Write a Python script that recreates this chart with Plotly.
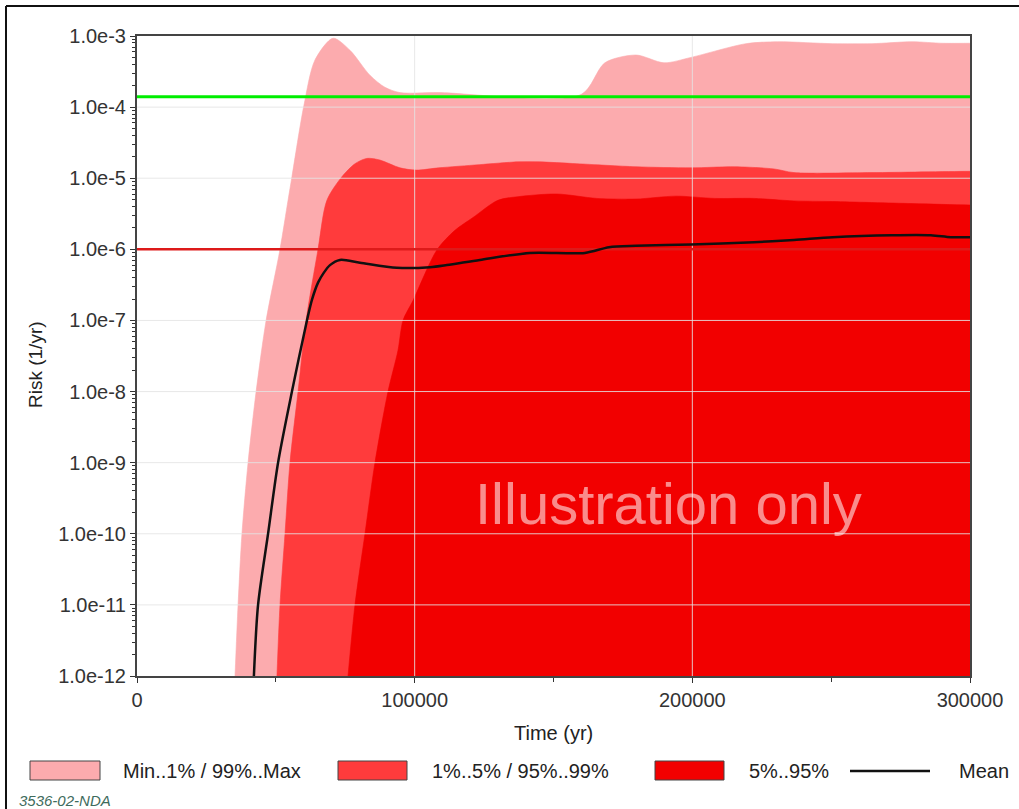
import plotly.graph_objects as go

# ---------------- data ----------------
# Upper envelope "Max" (Min..1% / 99%..Max band)
time_max = [35300, 36400, 37800, 40000, 42900, 46500, 51500, 54400, 55800, 60100,
            64100, 70600, 76700, 83900, 89300, 94700, 108700, 159900, 168500,
            179700, 189800, 199500, 219300, 230800, 250600, 264700, 279100, 290200, 300000]
risk_max = [1.0e-12, 1.0e-11, 1.0e-10, 1.0e-9, 1.0e-8, 1.0e-7, 1.0e-6, 4.9e-6, 1.05e-5, 1.05e-4,
            4.6e-4, 9.3e-4, 6.3e-4, 2.8e-4, 1.9e-4, 1.6e-4, 1.6e-4, 1.5e-4, 4.2e-4,
            5.4e-4, 4.2e-4, 5.0e-4, 7.8e-4, 8.3e-4, 7.8e-4, 7.8e-4, 8.3e-4, 7.9e-4, 7.9e-4]

# 99% percentile (1%..5% / 95%..99% band)
time_p99 = [50400, 51500, 53300, 55100, 58000, 60900, 65200, 68400, 73800, 78500,
            82800, 87500, 94700, 100500, 108700, 123200, 137200, 144400, 158400,
            179700, 199500, 215300, 229400, 236600, 264700, 300000]
risk_p99 = [1.0e-12, 1.0e-11, 1.0e-10, 1.0e-9, 1.0e-8, 1.0e-7, 1.0e-6, 4.9e-6, 1.05e-5, 1.6e-5,
            1.9e-5, 1.8e-5, 1.4e-5, 1.3e-5, 1.4e-5, 1.55e-5, 1.7e-5, 1.7e-5, 1.6e-5,
            1.45e-5, 1.4e-5, 1.45e-5, 1.35e-5, 1.2e-5, 1.2e-5, 1.25e-5]

# 95% percentile (5%..95% band)
time_p95 = [76000, 78500, 82100, 85700, 90400, 94000, 95800, 99400, 108000, 114500,
            121000, 130000, 137200, 151200, 165600, 179700, 194100, 208100, 222200,
            236600, 250600, 279100, 300000]
risk_p95 = [1.0e-12, 1.0e-11, 1.0e-10, 1.0e-9, 1.0e-8, 3.8e-8, 1.0e-7, 1.9e-7, 9.8e-7, 1.85e-6,
            2.8e-6, 4.9e-6, 5.5e-6, 6.0e-6, 5.2e-6, 5.1e-6, 5.6e-6, 5.2e-6, 5.2e-6,
            4.8e-6, 4.7e-6, 4.4e-6, 4.2e-6]

# Mean
time_mean = [42100, 43600, 47200, 50800, 55800, 61200, 63000, 65200, 67300, 69500,
             73100, 80300, 93600, 105500, 111600, 123500, 141500, 161300, 170000,
             179700, 199500, 222200, 236600, 250600, 271900, 285900, 293100, 300000]
risk_mean = [1.0e-12, 1.0e-11, 1.0e-10, 1.0e-9, 1.0e-8, 1.0e-7, 1.95e-7, 3.4e-7, 4.7e-7, 6.0e-7,
             7.1e-7, 6.5e-7, 5.5e-7, 5.6e-7, 6.0e-7, 7.1e-7, 8.9e-7, 8.9e-7, 1.07e-6,
             1.12e-6, 1.17e-6, 1.26e-6, 1.35e-6, 1.48e-6, 1.58e-6, 1.58e-6, 1.48e-6, 1.48e-6]

# Reference limits (green, red)
limit_values = [1.4e-4, 1.0e-6]
limit_colors = ["#00ee00", "#dd1a1a"]

x_range = [0, 300000]
x_ticks = [0, 100000, 200000, 300000]
y_ticks = [1e-3, 1e-4, 1e-5, 1e-6, 1e-7, 1e-8, 1e-9, 1e-10, 1e-11, 1e-12]
y_ticktext = ["1.0e-3", "1.0e-4", "1.0e-5", "1.0e-6", "1.0e-7", "1.0e-8",
              "1.0e-9", "1.0e-10", "1.0e-11", "1.0e-12"]

legend_labels = ["Min..1% / 99%..Max", "1%..5% / 95%..99%", "5%..95%", "Mean"]
band_colors = ["#fcabae", "#ff3b3c", "#f20000"]

# ---------------- figure ----------------
W, H = 1019, 809
L, R, T, B = 137, 970, 36, 676
FONT = "Liberation Sans, Arial, sans-serif"


def px(x):
    return (x - L) / (R - L)


def py(y):
    return (B - y) / (B - T)


BASE = 1e-14
fig = go.Figure()

for t, v, c in [(time_max, risk_max, band_colors[0]),
                (time_p99, risk_p99, band_colors[1]),
                (time_p95, risk_p95, band_colors[2])]:
    xs = list(t) + [t[-1] + 20000, t[-1] + 20000] + [t[0]]
    ys = list(v) + [v[-1], BASE] + [BASE]
    fig.add_trace(go.Scatter(x=xs, y=ys, mode="lines", fill="toself", fillcolor=c,
                             line=dict(width=0.6, color=c, shape="spline", smoothing=0.8),
                             hoverinfo="skip", showlegend=False))

# grid lines above fills
gridc = "rgba(228,228,228,0.85)"
for v in y_ticks[1:-1]:
    fig.add_trace(go.Scatter(x=x_range, y=[v, v], mode="lines",
                             line=dict(width=1, color=gridc), hoverinfo="skip",
                             showlegend=False))
for xv in x_ticks[1:-1]:
    fig.add_trace(go.Scatter(x=[xv, xv], y=[y_ticks[-1], y_ticks[0]], mode="lines",
                             line=dict(width=1, color=gridc), hoverinfo="skip",
                             showlegend=False))

# limit lines
for v, c, w in zip(limit_values, limit_colors, [3, 2.5]):
    fig.add_trace(go.Scatter(x=x_range, y=[v, v], mode="lines",
                             line=dict(width=w, color=c), hoverinfo="skip",
                             showlegend=False))

# mean
fig.add_trace(go.Scatter(x=time_mean, y=risk_mean, mode="lines",
                         line=dict(width=2.5, color="#111111", shape="spline", smoothing=0.8),
                         hoverinfo="skip", showlegend=False))

shapes = []
annotations = []

# outer frame (top and left)
shapes.append(dict(type="line", xref="paper", yref="paper", x0=px(6), x1=px(W + 5),
                   y0=py(6), y1=py(6), line=dict(color="#111", width=2)))
shapes.append(dict(type="line", xref="paper", yref="paper", x0=px(6), x1=px(6),
                   y0=py(6), y1=py(H + 5), line=dict(color="#111", width=2)))

# custom legend
box_x = [(30, 100), (338, 407), (655, 724)]
text_x = [121, 430, 747, 957]
ly0, ly1 = 761, 780
lyc = 771
for (x0, x1), c in zip(box_x, band_colors):
    shapes.append(dict(type="rect", xref="paper", yref="paper", x0=px(x0), x1=px(x1),
                       y0=py(ly1), y1=py(ly0), fillcolor=c,
                       line=dict(color="#444", width=1)))
shapes.append(dict(type="line", xref="paper", yref="paper", x0=px(850), x1=px(930),
                   y0=py(lyc), y1=py(lyc), line=dict(color="#111", width=2.5)))
for tx, lab in zip(text_x, legend_labels):
    annotations.append(dict(xref="paper", yref="paper", x=px(tx), y=py(lyc),
                            xanchor="left", yanchor="middle", showarrow=False, text=lab,
                            font=dict(family=FONT, size=20, color="#222")))

# axis titles
annotations.append(dict(xref="paper", yref="paper", x=px(553), y=py(733), showarrow=False,
                        text="Time (yr)", xanchor="center", yanchor="middle",
                        font=dict(family=FONT, size=20, color="#222")))
annotations.append(dict(xref="paper", yref="paper", x=px(35), y=py(365), showarrow=False,
                        text="Risk (1/yr)", textangle=-90, xanchor="center", yanchor="middle",
                        font=dict(family=FONT, size=19, color="#222")))

# watermark
annotations.append(dict(xref="paper", yref="paper", x=px(668), y=py(503), showarrow=False,
                        text="Illustration only", xanchor="center", yanchor="middle",
                        font=dict(family=FONT, size=58, color="rgba(255,255,255,0.55)")))

# figure id
annotations.append(dict(xref="paper", yref="paper", x=px(17), y=py(800), showarrow=False,
                        text="<i>3536-02-NDA</i>", xanchor="left", yanchor="middle",
                        font=dict(family=FONT, size=15, color="#3e6b5c")))

fig.update_layout(
    width=W, height=H,
    margin=dict(l=L, r=W - R, t=T, b=H - B),
    paper_bgcolor="white", plot_bgcolor="white",
    showlegend=False,
    shapes=shapes, annotations=annotations,
    font=dict(family=FONT, color="#333"),
    xaxis=dict(range=x_range, tickvals=x_ticks, ticktext=[str(v) for v in x_ticks],
               ticks="outside", ticklen=5, tickcolor="#333", showgrid=False, zeroline=False,
               showline=True, linecolor="#444", linewidth=2, mirror=True,
               tickfont=dict(family=FONT, size=20, color="#333"),
               minor=dict(ticks="outside", ticklen=4, dtick=50000, tickcolor="#333",
                          showgrid=False)),
    yaxis=dict(type="log", range=[-12, -3], tickvals=y_ticks, ticktext=y_ticktext,
               ticks="outside", ticklen=5, tickcolor="#333", showgrid=False, zeroline=False,
               showline=True, linecolor="#444", linewidth=2, mirror=True,
               tickfont=dict(family=FONT, size=20, color="#333"),
               minor=dict(ticks="outside", ticklen=3, dtick="D1", tickcolor="#333",
                          showgrid=False)),
)

fig.write_html("out.html")
